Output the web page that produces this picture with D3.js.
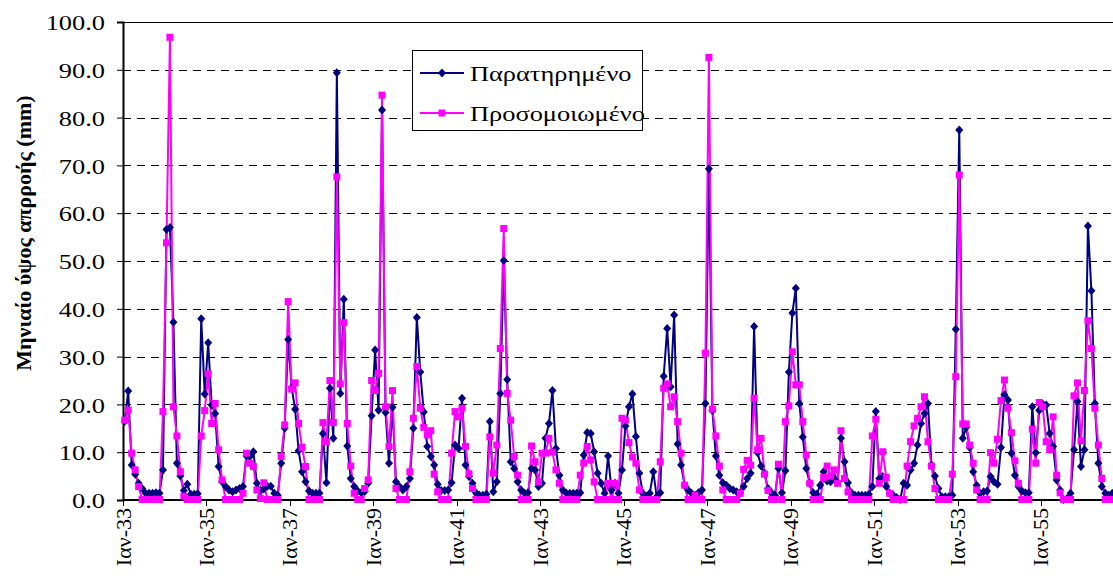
<!DOCTYPE html>
<html>
<head>
  <meta charset="utf-8">
  <title>Μηνιαίο ύψος απορροής</title>
  <style>
    body {
      margin: 0;
      padding: 0;
      background-color: #fff;
    }
    svg {
      display: block;
    }
    text {
      font-family: "Liberation Serif", "Times New Roman", serif;
      fill: #000;
    }
  </style>
</head>
<body>
  <div id="chart"></div>

  <script src="https://d3js.org/d3.v7.min.js"></script>
  <script>
    // Monthly runoff depth (mm), Jan 1933 - Sep 1956, one row per year
    const observed = [
      16.5, 22.8, 7.3, 5.4, 3.5, 2.4, 1.4, 1.4, 1.4, 1.5, 1.4, 6.3,
      56.6, 57.0, 37.2, 7.7, 5.0, 2.0, 3.3, 1.2, 1.2, 1.3, 37.9, 22.2,
      32.9, 19.9, 18.1, 7.0, 3.8, 2.8, 2.1, 1.7, 2.1, 2.4, 2.8, 9.2,
      9.1, 10.1, 3.5, 2.0, 2.3, 2.9, 2.9, 1.4, 1.0, 7.7, 15.0, 33.6,
      23.5, 19.0, 10.3, 5.9, 3.8, 1.9, 1.4, 1.4, 1.4, 13.9, 3.6, 23.4,
      12.9, 89.4, 22.3, 42.0, 11.3, 4.5, 2.8, 1.9, 1.5, 1.8, 3.5, 17.6,
      31.4, 18.8, 81.6, 18.3, 7.7, 19.4, 3.8, 2.8, 2.1, 2.8, 4.5, 15.0,
      38.2, 26.8, 18.4, 11.2, 9.1, 7.3, 3.3, 2.0, 2.0, 2.1, 3.6, 11.5,
      10.8, 21.3, 7.3, 4.9, 3.5, 1.5, 1.0, 1.0, 1.2, 16.4, 1.7, 3.8,
      22.3, 50.1, 25.2, 8.0, 6.6, 3.8, 2.1, 1.4, 1.5, 6.6, 6.3, 2.8,
      3.5, 12.9, 16.0, 22.9, 10.8, 5.2, 2.1, 1.4, 1.4, 1.4, 1.4, 1.5,
      9.4, 14.1, 13.9, 10.1, 5.6, 3.5, 1.4, 9.2, 2.1, 3.5, 1.4, 6.3,
      15.5, 19.5, 22.2, 13.3, 5.6, 1.4, 0.8, 1.4, 5.9, 0.7, 1.5, 25.9,
      35.9, 23.7, 38.7, 11.7, 7.3, 3.1, 2.1, 1.4, 1.0, 1.5, 2.1, 20.2,
      69.3, 18.7, 9.2, 5.2, 3.6, 3.1, 2.4, 2.1, 1.7, 1.5, 2.8, 4.5,
      5.6, 36.3, 9.9, 7.1, 5.6, 2.4, 1.5, 1.0, 6.6, 1.5, 6.1, 26.8,
      39.1, 44.3, 20.2, 13.2, 6.6, 3.5, 1.5, 1.2, 3.1, 5.9, 4.0, 3.8,
      4.5, 3.6, 12.9, 8.0, 3.6, 1.5, 1.0, 1.0, 1.0, 1.0, 1.2, 2.8,
      18.5, 4.5, 4.9, 2.8, 1.4, 1.0, 0.5, 0.1, 3.5, 3.1, 6.3, 7.7,
      11.5, 16.0, 18.1, 20.2, 7.3, 5.0, 2.4, 0.7, 0.7, 0.7, 1.0, 35.7,
      77.4, 12.9, 15.2, 11.0, 5.9, 3.1, 1.4, 1.7, 1.9, 4.9, 3.8, 3.3,
      11.0, 22.0, 20.9, 9.8, 5.2, 2.8, 1.9, 1.5, 1.5, 19.5, 9.9, 18.8,
      20.1, 19.9, 13.9, 11.2, 4.2, 2.1, 0.1, 0.3, 1.4, 10.5, 20.6, 7.0,
      10.5, 57.3, 43.8, 20.2, 7.7, 2.8, 1.4, 1.0, 1.4
    ];

    const simulated = [
      16.7, 18.8, 9.8, 6.3, 2.8, 0.1, 0.1, 0.1, 0.1, 0.1, 0.1, 18.5,
      53.8, 96.8, 19.5, 13.4, 5.9, 0.8, 0.1, 0.1, 0.1, 0.1, 13.4, 18.7,
      26.4, 16.0, 20.2, 10.5, 4.2, 0.1, 0.1, 0.1, 0.1, 0.1, 1.4, 9.8,
      7.7, 7.0, 2.1, 0.3, 3.6, 0.1, 0.1, 0.1, 0.1, 9.1, 15.7, 41.5,
      23.2, 24.5, 16.0, 11.0, 7.0, 0.1, 0.1, 0.1, 0.1, 16.2, 12.2, 25.0,
      16.2, 67.6, 24.3, 37.1, 16.0, 7.1, 1.4, 0.1, 0.1, 2.4, 4.2, 25.0,
      22.9, 26.5, 84.7, 19.5, 11.2, 22.9, 2.4, 0.1, 0.1, 0.1, 5.9, 17.1,
      27.9, 19.2, 15.2, 13.6, 14.5, 5.4, 1.7, 0.1, 0.1, 0.1, 9.8, 18.5,
      17.4, 19.2, 11.2, 5.5, 2.4, 0.1, 0.1, 0.1, 0.1, 13.2, 5.6, 11.5,
      31.7, 56.8, 22.3, 16.7, 9.1, 5.2, 0.1, 0.1, 0.1, 11.3, 8.0, 3.8,
      9.8, 9.8, 12.9, 10.0, 6.3, 3.5, 0.1, 0.1, 0.1, 0.1, 0.1, 5.2,
      7.7, 11.2, 8.4, 3.8, 0.1, 0.1, 0.1, 3.5, 0.1, 3.5, 0.1, 17.1,
      16.7, 12.0, 9.0, 7.7, 2.1, 0.1, 0.1, 0.1, 0.1, 0.1, 8.0, 23.4,
      24.3, 19.5, 21.6, 16.4, 9.8, 3.1, 0.1, 0.1, 1.0, 0.1, 0.1, 30.7,
      92.6, 19.0, 13.4, 7.1, 2.1, 0.1, 0.1, 0.1, 0.1, 1.4, 6.4, 8.3,
      7.3, 21.3, 10.5, 12.9, 5.4, 2.0, 0.1, 0.1, 7.5, 0.1, 16.4, 19.7,
      31.0, 24.1, 24.1, 16.4, 9.4, 3.5, 0.1, 0.1, 0.1, 4.7, 7.1, 5.0,
      6.3, 3.5, 14.5, 4.5, 1.7, 0.1, 0.1, 0.1, 0.1, 0.1, 0.1, 13.4,
      16.9, 3.5, 10.1, 4.7, 1.4, 0.1, 0.1, 0.1, 0.1, 7.1, 12.2, 15.5,
      17.1, 19.5, 21.6, 12.2, 7.1, 2.4, 0.1, 0.1, 0.1, 0.1, 5.4, 25.8,
      68.0, 15.9, 15.9, 11.5, 7.7, 2.1, 0.1, 0.1, 0.1, 9.9, 7.7, 12.7,
      20.8, 25.1, 19.2, 14.1, 8.2, 3.5, 0.1, 0.1, 0.1, 14.8, 7.7, 20.4,
      19.5, 12.2, 10.5, 17.4, 5.2, 1.5, 0.1, 0.1, 0.1, 21.8, 24.5, 12.4,
      22.9, 37.5, 31.7, 19.2, 11.5, 4.5, 0.1, 0.1, 0.1
    ];

    // Category labels
    const monthNames = ["Ιαν", "Φεβ", "Μαρ", "Απρ", "Μαϊ", "Ιουν", "Ιουλ", "Αυγ", "Σεπ", "Οκτ", "Νοε", "Δεκ"];
    const firstYear = 33;
    const tickLabels = ["Ιαν-33", "Ιαν-35", "Ιαν-37", "Ιαν-39", "Ιαν-41", "Ιαν-43",
                        "Ιαν-45", "Ιαν-47", "Ιαν-49", "Ιαν-51", "Ιαν-53", "Ιαν-55"];
    const yTicks = [0, 10, 20, 30, 40, 50, 60, 70, 80, 90, 100];
    const seriesNames = ["Παρατηρημένο", "Προσομοιωμένο"];
    const yTitle = "Μηνιαίο ύψος απρροής (mm)";

    const categories = observed.map((d, i) =>
      monthNames[i % 12] + "-" + (firstYear + Math.floor(i / 12)));

    // Layout
    const width = 1113;
    const height = 587;
    const plot = { left: 123, right: 1114, top: 22, bottom: 500 };
    const stretch = 1.2;   // the original text is a bit wider than tall

    const svg = d3.select("#chart")
      .append("svg")
      .attr("width", width)
      .attr("height", height);

    const x = d3.scaleBand()
      .domain(categories)
      .range([plot.left, plot.right])
      .paddingInner(0)
      .paddingOuter(0);

    const y = d3.scaleLinear()
      .domain([0, 100])
      .range([plot.bottom, plot.top]);

    const cx = d => x(d) + x.bandwidth() / 2;

    // Gridlines
    svg.append("g")
      .selectAll("line")
      .data(yTicks.filter(t => t > 0 && t < 100))
      .join("line")
      .attr("x1", plot.left)
      .attr("x2", plot.right)
      .attr("y1", d => Math.round(y(d)) + 0.5)
      .attr("y2", d => Math.round(y(d)) + 0.5)
      .attr("stroke", "#000")
      .attr("stroke-width", 1)
      .attr("stroke-dasharray", "8,6");

    // Plot area border (top)
    svg.append("line")
      .attr("x1", plot.left).attr("x2", plot.right)
      .attr("y1", plot.top + 0.5).attr("y2", plot.top + 0.5)
      .attr("stroke", "#000").attr("stroke-width", 1);

    // Y axis
    const yAxis = svg.append("g")
      .attr("transform", `translate(${plot.left},0)`)
      .call(d3.axisLeft(y).tickValues(yTicks).tickFormat(d3.format(".1f")).tickSize(6).tickPadding(0));
    yAxis.select(".domain").attr("stroke-width", 2);
    yAxis.selectAll(".tick line").attr("stroke-width", 1);
    yAxis.selectAll(".tick text")
      .attr("x", null)
      .attr("dy", null)
      .attr("font-size", 22)
      .attr("font-family", "Liberation Serif")
      .attr("text-anchor", "end")
      .attr("dominant-baseline", "central")
      .attr("transform", `translate(-18,0) scale(${stretch},1)`);

    // X axis: ticks every 24 months at band edges
    const tickCats = categories.filter(c => tickLabels.includes(c));
    const xAxis = svg.append("g")
      .attr("transform", `translate(0,${plot.bottom})`);
    xAxis.append("line")
      .attr("x1", plot.left).attr("x2", plot.right)
      .attr("stroke", "#000").attr("stroke-width", 2);
    xAxis.selectAll(".tick")
      .data(tickCats)
      .join("line")
      .attr("class", "tick")
      .attr("x1", d => Math.round(x(d)) + 0.5)
      .attr("x2", d => Math.round(x(d)) + 0.5)
      .attr("y1", 0)
      .attr("y2", 6)
      .attr("stroke", "#000");
    xAxis.selectAll(".label")
      .data(tickCats)
      .join("text")
      .attr("class", "label")
      .attr("transform", d => `translate(${x(d)},8) rotate(-90)`)
      .attr("text-anchor", "end")
      .attr("dominant-baseline", "central")
      .attr("font-size", 22)
      .text(d => d);

    // Y axis title
    svg.append("text")
      .attr("transform", "translate(23,233) rotate(-90)")
      .attr("text-anchor", "middle")
      .attr("dominant-baseline", "central")
      .attr("font-size", 22)
      .attr("font-weight", "bold")
      .text(yTitle);

    // Series
    const series = [
      { name: seriesNames[0], values: observed, color: "#000080", marker: "diamond" },
      { name: seriesNames[1], values: simulated, color: "#ff00ff", marker: "square" }
    ];

    const diamond = "M0,-4.5L4,0L0,4.5L-4,0Z";
    const square = "M-3.5,-3.5H3.5V3.5H-3.5Z";

    const line = d3.line()
      .x((d, i) => cx(categories[i]))
      .y(d => y(d));

    // Lines first, then markers on top
    svg.append("g")
      .selectAll("path")
      .data(series)
      .join("path")
      .attr("d", s => line(s.values))
      .attr("fill", "none")
      .attr("stroke", s => s.color)
      .attr("stroke-width", 2)
      .attr("stroke-linejoin", "round");

    series.forEach(s => {
      svg.append("g")
        .selectAll("path")
        .data(s.values)
        .join("path")
        .attr("transform", (d, i) => `translate(${cx(categories[i])},${y(d)})`)
        .attr("d", s.marker === "diamond" ? diamond : square)
        .attr("fill", s.color);
    });

    // Legend
    const legend = svg.append("g").attr("transform", "translate(412,50)");
    legend.append("rect")
      .attr("x", 0.5).attr("y", 0.5)
      .attr("width", 230).attr("height", 80)
      .attr("fill", "#fff")
      .attr("stroke", "#000");
    series.forEach((s, i) => {
      const ly = 23 + i * 40;
      legend.append("line")
        .attr("x1", 8).attr("x2", 52)
        .attr("y1", ly).attr("y2", ly)
        .attr("stroke", s.color).attr("stroke-width", 2);
      legend.append("path")
        .attr("transform", `translate(30,${ly})`)
        .attr("d", s.marker === "diamond" ? diamond : square)
        .attr("fill", s.color);
      legend.append("text")
        .attr("transform", `translate(58,${ly}) scale(${stretch},1)`)
        .attr("dominant-baseline", "central")
        .attr("font-size", 22)
        .text(s.name);
    });
  </script>
</body>
</html>
